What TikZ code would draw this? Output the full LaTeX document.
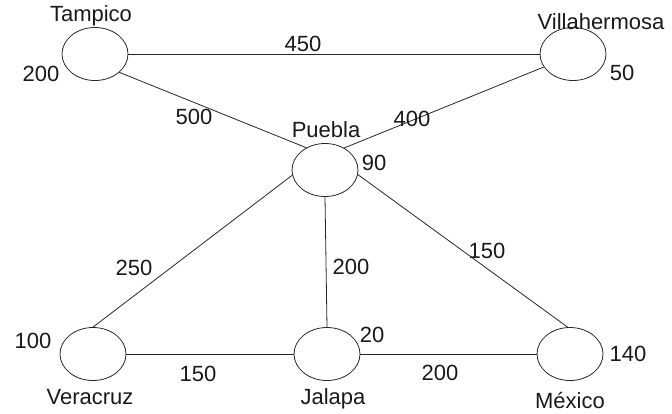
\documentclass[tikz,border=0pt]{standalone}
\usepackage{fontspec}
\setmainfont{Liberation Sans}
\usetikzlibrary{shapes.geometric}
\begin{document}
\begin{tikzpicture}[x=1pt,y=-1pt,
  city/.style={ellipse,draw=black!85,line width=0.8pt,minimum width=66pt,minimum height=53pt,inner sep=0pt},
  road/.style={draw=black!85,line width=0.8pt},
  txt/.style={inner sep=0pt,font=\fontsize{22}{24}\selectfont,text=black!90}]
\useasboundingbox (0,0) rectangle (672,413);
\node[city] (tam) at (95,54) {};
\node[city] (vil) at (573,54) {};
\node[city] (pue) at (325,170) {};
\node[city] (ver) at (93,354) {};
\node[city] (jal) at (327,354) {};
\node[city] (mex) at (570,354) {};
% roads
\draw[road] (tam.east) -- (vil.west);
\draw[road] (tam.-37) -- (pue.130);
\draw[road] (vil.204) -- (pue.49);
\draw[road] (pue.189) -- (ver.90);
\draw[road] (pue.south) -- (jal.north);
\draw[road] (pue.-8) -- (mex.95);
\draw[road] (ver.east) -- (jal.west);
\draw[road] (jal.east) -- (mex.west);
% names
\node[txt] (ntam) at (91,16) {Tampico};
\node[txt] (nvil) at (601,22) {Villahermosa};
\node[txt] (npue) at (326,130) {Puebla};
\node[txt] (nver) at (90,397) {Veracruz};
\node[txt] (njal) at (333,399) {Jalapa};
\node[txt] (nmex) at (570,401) {México};
% city values
\node[txt] (vtam) at (41,74) {200};
\node[txt] (vvil) at (622,73) {50};
\node[txt] (vpue) at (374,163) {90};
\node[txt] (vver) at (33,341) {100};
\node[txt] (vjal) at (372,335) {20};
\node[txt] (vmex) at (628,354) {140};
% distances
\node[txt] (d1) at (303,44) {450};
\node[txt] (d2) at (194,117) {500};
\node[txt] (d3) at (412,119) {400};
\node[txt] (d4) at (134,268) {250};
\node[txt] (d5) at (351,267) {200};
\node[txt] (d6) at (487,251) {150};
\node[txt] (d7) at (198,374) {150};
\node[txt] (d8) at (440,373) {200};
\end{tikzpicture}
\end{document}
